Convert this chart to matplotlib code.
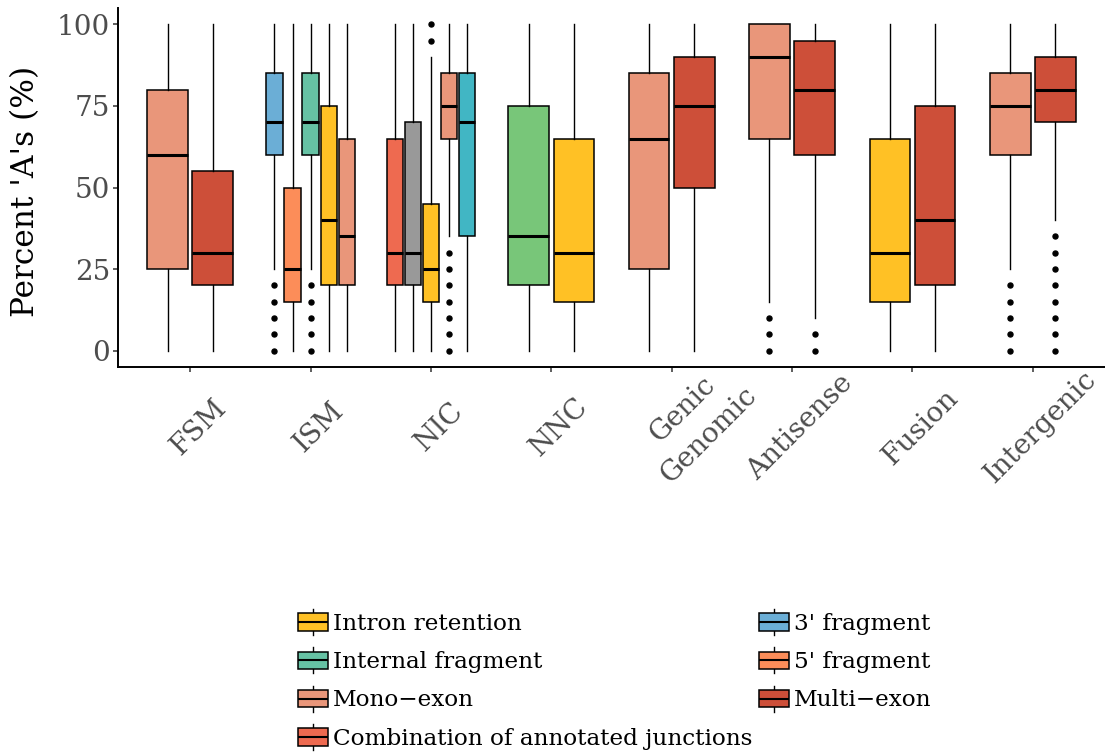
import matplotlib
matplotlib.use('Agg')
import matplotlib.pyplot as plt
from matplotlib.patches import Rectangle, Patch
from matplotlib.lines import Line2D
from matplotlib.legend_handler import HandlerBase
from matplotlib.transforms import ScaledTranslation

FONT = 'DejaVu Serif'
plt.rcParams['font.family'] = [FONT, 'DejaVu Sans']

# ---------------- data ----------------
categories = ['FSM', 'ISM', 'NIC', 'NNC', 'Genic\nGenomic', 'Antisense', 'Fusion', 'Intergenic']

box_category = ['FSM', 'FSM',
                'ISM', 'ISM', 'ISM', 'ISM', 'ISM',
                'NIC', 'NIC', 'NIC', 'NIC', 'NIC',
                'NNC', 'NNC',
                'Genic\nGenomic', 'Genic\nGenomic',
                'Antisense', 'Antisense',
                'Fusion', 'Fusion',
                'Intergenic', 'Intergenic']

box_subcategory = ['Mono\u2212exon', 'Multi\u2212exon',
                   "3' fragment", "5' fragment", 'Internal fragment', 'Intron retention', 'Mono\u2212exon',
                   'Combination of annotated junctions', 'Combination of annotated splice sites',
                   'Intron retention', 'Mono\u2212exon', 'Mono\u2212exon by intron retention',
                   'At least one annotated donor/acceptor', 'Intron retention',
                   'Mono\u2212exon', 'Multi\u2212exon',
                   'Mono\u2212exon', 'Multi\u2212exon',
                   'Intron retention', 'Multi\u2212exon',
                   'Mono\u2212exon', 'Multi\u2212exon']

box_q1 = [25, 20, 60, 15, 60, 20, 20, 20, 20, 15, 65, 35, 20, 15, 25, 50, 65, 60, 15, 20, 60, 70]
box_med = [60, 30, 70, 25, 70, 40, 35, 30, 30, 25, 75, 70, 35, 30, 65, 75, 90, 80, 30, 40, 75, 80]
box_q3 = [80, 55, 85, 50, 85, 75, 65, 65, 70, 45, 85, 85, 75, 65, 85, 90, 100, 95, 65, 75, 85, 90]
box_whislo = [0, 0, 25, 0, 25, 0, 0, 0, 0, 0, 35, 0, 0, 0, 0, 0, 15, 10, 0, 0, 25, 40]
box_whishi = [100, 100, 100, 100, 100, 100, 100, 100, 100, 90, 100, 100, 100, 100, 100, 100, 100, 100, 100, 100, 100, 100]
box_fliers = [[], [],
              [0, 5, 10, 15, 20], [], [0, 5, 10, 15, 20], [], [],
              [], [], [95, 100], [0, 5, 10, 15, 20, 25, 30], [],
              [], [],
              [], [],
              [0, 5, 10], [0, 5],
              [], [],
              [0, 5, 10, 15, 20], [0, 5, 10, 15, 20, 25, 30, 35]]

subcategory_colors = {
    'Intron retention': '#FFC125',
    "3' fragment": '#6BAED6',
    'Internal fragment': '#66C2A4',
    "5' fragment": '#FC8D59',
    'Mono\u2212exon': '#E9967A',
    'Multi\u2212exon': '#CD4F39',
    'Combination of annotated junctions': '#EE6A50',
    'Combination of annotated splice sites': '#999999',
    'Mono\u2212exon by intron retention': '#41B6C4',
    'At least one annotated donor/acceptor': '#78C679',
}

legend_order = ['Intron retention', 'Internal fragment', 'Mono\u2212exon',
                'Combination of annotated junctions',
                "3' fragment", "5' fragment", 'Multi\u2212exon']

y_ticks = [0, 25, 50, 75, 100]
y_label = "Percent 'A's (%)"

# ---------------- figure ----------------
W, H = 1105, 752
fig = plt.figure(figsize=(W / 100, H / 100), dpi=100)
ax = fig.add_axes([118 / W, 1 - 367 / H, 987 / W, 359 / H])

DODGE = 0.75
stats, positions, widths, colors = [], [], [], []
for i, cat in enumerate(categories):
    idx = [k for k, c in enumerate(box_category) if c == cat]
    n = len(idx)
    slot = DODGE / n
    for j, k in enumerate(idx):
        stats.append(dict(q1=box_q1[k], med=box_med[k], q3=box_q3[k],
                          whislo=box_whislo[k], whishi=box_whishi[k],
                          fliers=box_fliers[k]))
        positions.append(i - DODGE / 2 + slot * (j + 0.5))
        widths.append(slot * 0.9)
        colors.append(subcategory_colors[box_subcategory[k]])

bp = ax.bxp(stats, positions=positions, widths=widths, patch_artist=True,
            showcaps=False,
            boxprops=dict(edgecolor='black', linewidth=1.1),
            medianprops=dict(color='black', linewidth=2.2, solid_capstyle='butt'),
            whiskerprops=dict(color='black', linewidth=1.0),
            flierprops=dict(marker='o', markerfacecolor='black',
                            markeredgecolor='black', markersize=3.6))
for patch, c in zip(bp['boxes'], colors):
    patch.set_facecolor(c)

ax.set_xlim(-0.6, len(categories) - 0.4)
ax.set_ylim(-5, 105)
ax.set_yticks(y_ticks)
ax.set_yticklabels([str(t) for t in y_ticks])
ax.set_xticks(range(len(categories)))
ax.set_xticklabels([])

for s in ['top', 'right']:
    ax.spines[s].set_visible(False)
for s in ['left', 'bottom']:
    ax.spines[s].set_linewidth(1.4)
    ax.spines[s].set_color('black')

TICK_FS = 20
ax.tick_params(axis='both', length=3.6, width=1.1, color='#333333',
               labelsize=TICK_FS, labelcolor='#4D4D4D', pad=2.2)

for i, cat in enumerate(categories):
    nl = cat.count('\n') + 1
    dx = 8 + 16 * (nl - 1)
    dy = -(60 - 5 * (nl - 1))
    off = ScaledTranslation(dx / 100, dy / 100, fig.dpi_scale_trans)
    ax.text(i, 0, cat, transform=ax.get_xaxis_transform() + off,
            rotation=45, rotation_mode='anchor', ha='center', va='center',
            multialignment='center', linespacing=1.45,
            fontsize=TICK_FS, color='#4D4D4D', clip_on=False)

ax.set_ylabel(y_label, fontsize=22.5, color='black', va='center')
ax.yaxis.set_label_coords(-0.094, 0.49)


class BoxHandler(HandlerBase):
    def create_artists(self, legend, orig_handle, xdescent, ydescent,
                       width, height, fontsize, trans):
        fc = orig_handle.get_facecolor()
        x0, y0 = -xdescent, -ydescent
        bh = height * 0.66
        by = y0 + (height - bh) / 2
        cx = x0 + width / 2
        w1 = Line2D([cx, cx], [y0, by], color='black', lw=1.0, transform=trans)
        w2 = Line2D([cx, cx], [by + bh, y0 + height], color='black', lw=1.0, transform=trans)
        rect = Rectangle((x0, by), width, bh, facecolor=fc, edgecolor='black',
                         linewidth=1.1, transform=trans)
        med = Line2D([x0, x0 + width], [by + bh / 2] * 2, color='black', lw=1.5,
                     transform=trans, solid_capstyle='butt')
        return [w1, w2, rect, med]


handles = [Patch(facecolor=subcategory_colors[n]) for n in legend_order]
leg = fig.legend(handles, legend_order, loc='upper left',
                 bbox_to_anchor=(298 / W, 1 - 609 / H), bbox_transform=fig.transFigure,
                 ncol=2, frameon=False, fontsize=16.7,
                 handler_map={Patch: BoxHandler()},
                 handlelength=1.3, handleheight=1.35, handletextpad=0.2,
                 labelspacing=0.53, columnspacing=0.3, borderpad=0, borderaxespad=0)

fig.savefig('out.png', dpi=100)
